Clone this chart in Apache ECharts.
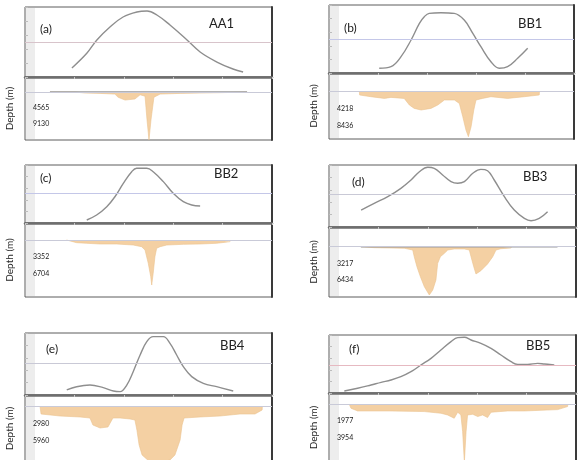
<!DOCTYPE html>
<html>
<head>
<meta charset="utf-8">
<script src="https://cdn.jsdelivr.net/npm/echarts@6/dist/echarts.min.js"></script>
<style>
  html, body { margin: 0; background: #fff; }
  #chart { width: 582px; height: 460px; }
</style>
</head>
<body>
<div id="chart"></div>
<script>
// upper profiles: [position along profile (%), relative anomaly (%)]
const curveA = [[19.0,12.9],[25.1,34.3],[29.1,52.9],[34.4,71.4],[39.7,85.7],[45.3,92.9],[49.4,94.3],[53.4,88.6],[58.7,74.3],[65.6,52.9],[70.9,35.7],[77.7,21.4],[84.2,11.4],[88.3,7.1]];
const curveB = [[20.5,6.9],[25.3,9.3],[29.4,24.0],[33.5,48.5],[36.9,73.1],[38.9,82.8],[40.9,87.7],[45.7,88.7],[51.1,87.7],[55.2,77.9],[58.7,58.3],[62.0,38.7],[66.1,16.6],[69.5,6.9],[72.9,9.3],[77.0,21.6],[81.1,36.3]];
const curveC = [[25.0,5.2],[29.0,13.8],[33.1,28.1],[36.4,45.3],[39.8,68.4],[43.2,88.5],[45.2,94.3],[49.3,94.3],[51.9,88.5],[56.0,71.3],[60.0,51.2],[64.1,36.7],[67.5,31.0],[70.9,29.3]];
const curveD = [[13.0,27.4],[18.3,38.2],[23.8,48.9],[29.1,62.4],[33.2,75.8],[36.6,89.2],[40.0,96.3],[42.6,94.7],[46.0,83.9],[49.4,73.1],[52.1,70.5],[54.8,73.1],[58.2,86.6],[61.5,93.0],[64.2,90.8],[66.9,75.8],[71.0,48.9],[75.0,27.4],[79.1,14.0],[81.8,10.2],[85.1,14.0],[88.5,24.7]];
const curveE = [[16.9,8.1],[20.9,13.4],[26.3,16.1],[31.7,11.8],[35.8,6.5],[38.5,5.4],[41.2,16.1],[43.8,37.6],[46.6,64.5],[49.3,86.0],[51.9,94.1],[56.0,94.1],[58.7,83.3],[61.4,64.5],[64.1,45.7],[67.5,29.6],[72.2,18.8],[77.6,13.4],[84.3,6.5]];
const curveF = [[6.2,3.4],[11.6,8.1],[17.0,13.8],[21.1,18.4],[25.1,22.4],[29.1,28.1],[33.2,36.7],[37.2,48.3],[41.3,59.8],[45.3,74.1],[49.4,88.5],[52.1,95.4],[54.8,96.0],[57.5,91.4],[61.5,85.6],[65.6,77.0],[69.6,65.5],[73.7,54.0],[76.4,49.4],[80.4,49.4],[84.5,51.1],[87.2,50.0],[91.2,48.3]];

// reference level of each upper profile (%)
const refA = 50, refB = 49.5, refC = 51.2, refD = 53.2, refE = 51.1, refF = 48.3;

// depth sections: [position (%), depth (m)]
const depthA = [[10.1,0],[20.2,0],[24.3,300],[30.4,400],[36.4,600],[37.7,1500],[40.5,2300],[44.5,2000],[46.6,800],[48.6,1200],[49.4,8000],[50.2,13700],[51.0,8000],[52.2,1500],[54.7,600],[62.8,400],[70.9,300],[79.0,200],[89.9,0]];
const depthB = [[12.4,0],[12.5,820],[17.1,1240],[22.6,1660],[25.3,1410],[30.7,1660],[32.8,3300],[34.8,4140],[37.6,4540],[41.6,4140],[44.4,3300],[47.1,2060],[51.2,2060],[53.2,2900],[54.6,6200],[55.9,9500],[56.9,11160],[58.0,8680],[59.1,4540],[60.0,2060],[62.7,1660],[66.1,1240],[72.9,1660],[79.7,1240],[85.8,820],[85.9,0]];
const depthC = [[16.8,0],[16.9,140],[20.9,530],[25.0,650],[30.4,790],[37.1,790],[43.8,990],[47.2,1320],[48.6,1970],[49.9,4590],[50.9,7230],[51.3,8870],[51.9,6560],[52.6,3290],[53.3,1640],[54.7,1320],[57.4,990],[64.1,850],[70.9,790],[77.6,650],[83.0,330],[83.1,0]];
const depthD = [[12.9,0],[13.0,120],[18.3,190],[25.1,250],[30.5,310],[33.9,640],[34.5,1930],[35.6,3860],[37.0,5790],[38.6,7720],[40.6,9320],[42.0,8360],[43.3,6430],[44.0,3220],[45.1,1930],[46.7,1290],[48.1,640],[50.7,440],[54.8,440],[56.8,640],[57.5,1930],[58.6,3860],[59.5,5270],[61.5,4630],[64.2,3340],[66.3,1930],[67.6,640],[69.6,390],[73.7,250],[73.8,0]];
const depthE = [[6.1,0],[6.5,1280],[14.2,1630],[22.3,1800],[26.3,1980],[27.5,3200],[30.4,3730],[33.6,3550],[35.6,1980],[38.5,1980],[42.5,2150],[44.5,2330],[45.3,4080],[46.2,6700],[47.4,8450],[50.6,9680],[54.7,9680],[58.7,9330],[60.7,8450],[62.8,5830],[63.6,3200],[64.4,1980],[70.9,1800],[78.9,1630],[87.0,1280],[93.1,1280],[96.0,580],[96.1,0]];
const depthF = [[8.2,0],[8.9,470],[11.6,790],[25.1,790],[38.6,860],[45.3,1060],[48.0,1260],[50.7,1650],[52.1,940],[53.4,1260],[54.1,3220],[54.8,6800],[55.5,3220],[56.1,1260],[58.2,1180],[60.2,1450],[62.2,1260],[64.2,1570],[65.6,940],[72.3,790],[79.1,790],[85.8,710],[92.6,630],[96.6,270],[96.7,0]];

// depth tick labels
const ticksA = [4565, 9130];
const ticksB = [4218, 8436];
const ticksC = [3352, 6704];
const ticksD = [3217, 6434];
const ticksE = [2980, 5960];
const ticksF = [1977, 3954];

// surface trace drawn over the section
const surfA = [[10.1,0],[89.9,0]];
const surfD = [[12.9,0],[92.5,0]];

const panelTags = ["(a)", "(b)", "(c)", "(d)", "(e)", "(f)"];
const profileNames = ["AA1", "BB1", "BB2", "BB3", "BB4", "BB5"];

// layout of each panel (pixels) and depth axis range
const panels = [
  { left: 25, top: 7, width: 247, upperH: 70, lowerH: 63, dMin: -4275, dMax: 13680,
    curve: curveA, ref: refA, refColor: "#d8c4cb", depth: depthA, ticks: ticksA, surf: surfA,
    tag: [40, 23], name: [209, 17] },
  { left: 329, top: 5, width: 245, upperH: 68, lowerH: 66, dMin: -4640, dMax: 11730,
    curve: curveB, ref: refB, refColor: "#c4c7e8", depth: depthB, ticks: ticksB, surf: [],
    tag: [344, 22], name: [518, 17] },
  { left: 25, top: 165, width: 247, upperH: 58, lowerH: 74, dMin: -3350, dMax: 11230,
    curve: curveC, ref: refC, refColor: "#c4c7e8", depth: depthC, ticks: ticksC, surf: [],
    tag: [40, 172], name: [214, 167] },
  { left: 329, top: 165, width: 247, upperH: 62, lowerH: 70, dMin: -3800, dMax: 9710,
    curve: curveD, ref: refD, refColor: "#c9c9d6", depth: depthD, ticks: ticksD, surf: surfD,
    tag: [352, 176], name: [523, 170] },
  { left: 25, top: 333, width: 247, upperH: 62, lowerH: 67, dMin: -2050, dMax: 9680,
    curve: curveE, ref: refE, refColor: "#c9c9d6", depth: depthE, ticks: ticksE, surf: [],
    tag: [46, 343], name: [220, 339] },
  { left: 329, top: 335, width: 247, upperH: 58, lowerH: 69, dMin: -1330, dMax: 6810,
    curve: curveF, ref: refF, refColor: "#e6b9c1", depth: depthF, ticks: ticksF, surf: [],
    tag: [349, 343], name: [526, 339] }
];

const font = "Lato";
let grid = [], xAxis = [], yAxis = [], series = [], title = [], graphic = [];

panels.forEach(function (p, i) {
  let gu = grid.length, gl = gu + 1;
  let frame = { show: true, borderColor: "#5c5c5c", borderWidth: 1, outerBoundsMode: "none" };
  grid.push(Object.assign({ left: p.left, top: p.top, width: p.width, height: p.upperH }, frame));
  grid.push(Object.assign({ left: p.left, top: p.top + p.upperH, width: p.width, height: p.lowerH }, frame));

  let xu = xAxis.length;
  xAxis.push({
    type: "value", gridIndex: gu, min: 0, max: 100, interval: 20,
    axisLine: { show: true, onZero: false, lineStyle: { color: "#6e6e6e", width: 2.5 } },
    axisTick: { show: true, length: 2, lineStyle: { color: "#c8c8c8" } },
    axisLabel: { show: false }, splitLine: { show: false }
  });
  xAxis.push({ type: "value", gridIndex: gl, min: 0, max: 100, show: false });

  let yu = yAxis.length;
  yAxis.push({
    type: "value", gridIndex: gu, min: 0, max: 100, interval: 20,
    axisLine: { show: false },
    axisTick: { show: true, inside: true, length: 3, lineStyle: { color: "#bdbdbd" } },
    axisLabel: { show: false }, splitLine: { show: false }
  });
  yAxis.push({
    type: "value", gridIndex: gl, inverse: true, min: p.dMin, max: p.dMax,
    name: "Depth (m)", nameLocation: "middle", nameGap: 10, nameRotate: 90,
    nameTextStyle: { fontSize: 10, color: "#222", fontFamily: font },
    axisLine: { show: false }, axisTick: { show: false }, splitLine: { show: false },
    axisLabel: { inside: true, customValues: p.ticks, fontSize: 7, color: "#222", margin: 8, fontFamily: font,
      formatter: function (v) { return String(v); } }
  });
  // heavy right edge of the frame
  yAxis.push({ type: "value", gridIndex: gu, position: "right", axisLine: { show: true, lineStyle: { color: "#3a3a3a", width: 2 } }, axisTick: { show: false }, axisLabel: { show: false }, splitLine: { show: false } });
  yAxis.push({ type: "value", gridIndex: gl, position: "right", axisLine: { show: true, lineStyle: { color: "#3a3a3a", width: 2 } }, axisTick: { show: false }, axisLabel: { show: false }, splitLine: { show: false } });

  series.push({
    type: "line", xAxisIndex: xu, yAxisIndex: yu, data: p.curve,
    smooth: 0.4, showSymbol: false, silent: true,
    lineStyle: { color: "#8e8e8e", width: 1.4 },
    markLine: {
      silent: true, symbol: "none", label: { show: false },
      lineStyle: { color: p.refColor, width: 1, type: "solid" },
      data: [{ yAxis: p.ref }]
    }
  });
  series.push({
    type: "line", xAxisIndex: xu + 1, yAxisIndex: yu + 1, data: p.depth,
    showSymbol: false, silent: true,
    lineStyle: { color: "#ebc28f", width: 0.6 },
    areaStyle: { color: "#f4d0a3", opacity: 1 },
    markLine: {
      silent: true, symbol: "none", label: { show: false },
      lineStyle: { color: "#c9cad8", width: 1, type: "solid" },
      data: [{ yAxis: 0 }]
    }
  });
  if (p.surf.length)
    series.push({
      type: "line", xAxisIndex: xu + 1, yAxisIndex: yu + 1, data: p.surf,
      showSymbol: false, silent: true, lineStyle: { color: "#9a9a9a", width: 1.5 }
    });

  title.push({ text: panelTags[i], left: p.tag[0], top: p.tag[1], padding: 0,
    textStyle: { fontSize: 12, fontWeight: "normal", color: "#222", fontFamily: font } });
  title.push({ text: profileNames[i], left: p.name[0], top: p.name[1], padding: 0,
    textStyle: { fontSize: 13, fontWeight: "normal", color: "#222", fontFamily: font } });

  // grey scale strip on the left of each panel
  graphic.push({ type: "rect", z: -10, silent: true,
    shape: { x: p.left + 1, y: p.top + 1, width: 9, height: p.upperH + p.lowerH - 2 },
    style: { fill: "#ededed" } });
});

let myChart = echarts.init(document.getElementById("chart"), null, { renderer: "canvas" });
let option = {
  backgroundColor: "#fff",
  animation: false,
  title: title,
  grid: grid,
  xAxis: xAxis,
  yAxis: yAxis,
  series: series,
  graphic: graphic
};
if (option && typeof option === "object") myChart.setOption(option);
window.addEventListener("resize", function () {
  myChart.resize();
});
</script>
</body>
</html>
